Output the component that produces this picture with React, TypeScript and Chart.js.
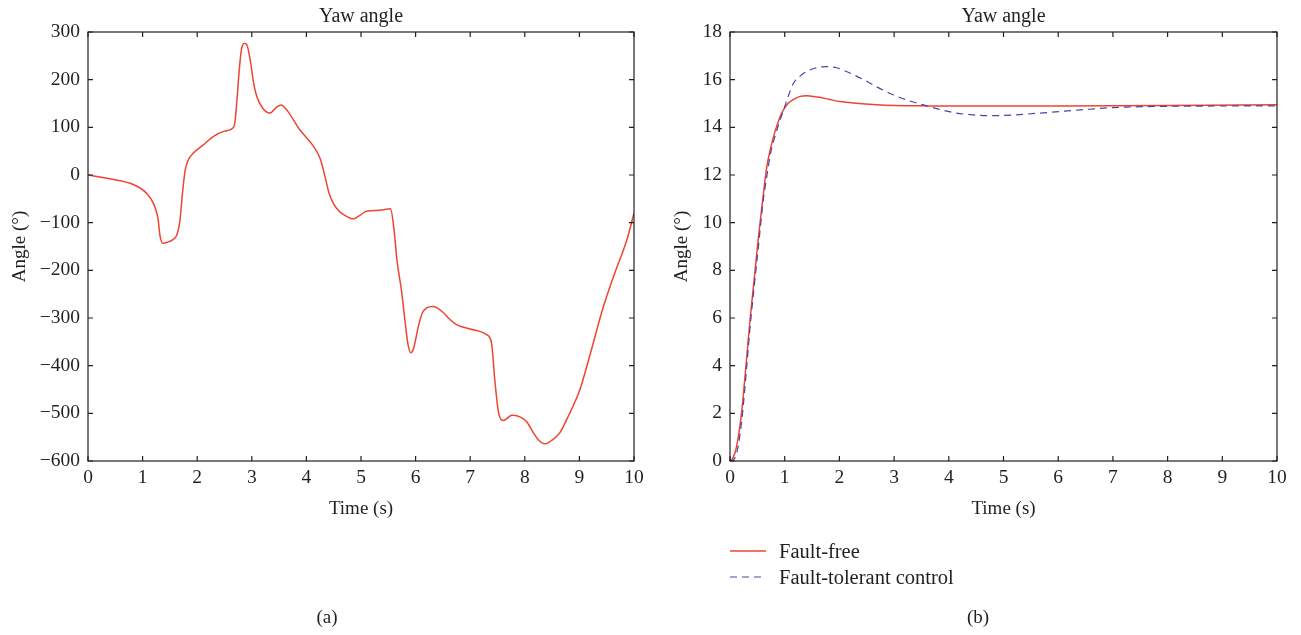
import React, { useEffect, useRef } from 'react';
import { Chart, registerables } from 'chart.js';

Chart.register(...registerables);

// ---------- data ----------
const timeTicks = [0, 1, 2, 3, 4, 5, 6, 7, 8, 9, 10];
const angleTicksA = [-600, -500, -400, -300, -200, -100, 0, 100, 200, 300];
const angleTicksB = [0, 2, 4, 6, 8, 10, 12, 14, 16, 18];

// panel (a): yaw angle
const timeA = [
  0, 0.4, 0.83, 1.07, 1.2, 1.28, 1.32, 1.37, 1.45, 1.55, 1.63, 1.685, 1.73, 1.78, 1.83, 1.93,
  2.1, 2.3, 2.5, 2.66, 2.69, 2.73, 2.77, 2.81, 2.86, 2.9, 2.97, 3.03, 3.09, 3.2, 3.33, 3.45,
  3.54, 3.65, 3.88, 4.13, 4.25, 4.34, 4.42, 4.49, 4.6, 4.68, 4.86, 4.95, 5.1, 5.35, 5.54,
  5.6, 5.66, 5.74, 5.81, 5.86, 5.91, 5.96, 6.05, 6.12, 6.2, 6.32, 6.51, 6.6, 6.75, 7.0, 7.3,
  7.39, 7.45, 7.52, 7.61, 7.67, 7.76, 7.9, 8.03, 8.16, 8.25, 8.37, 8.5, 8.64, 8.8, 9.01, 9.2,
  9.44, 9.65, 9.87, 10.0,
];
const angleA = [
  0, -8, -20, -38, -60, -90, -128, -143, -141, -136, -125, -94, -38, 10, 30, 46,
  62, 81, 92, 99, 110, 160, 220, 263, 276, 275, 242, 195, 165, 140, 130, 142,
  147, 135, 95, 60, 35, -3, -40, -59, -76, -83, -92, -87, -76, -74, -71,
  -110, -180, -241, -310, -355, -373, -365, -318, -290, -279, -276, -289, -300, -314, -323, -335,
  -352, -429, -499, -515, -511, -504, -507, -517, -541, -556, -564, -556, -541, -505, -450, -375,
  -276, -205, -136, -80,
];

// panel (b): fault-free vs fault-tolerant control
const seriesLabels = ['Fault-free', 'Fault-tolerant control'];
const timeFaultFree = [
  0, 0.06, 0.12, 0.21, 0.3, 0.37, 0.45, 0.52, 0.6, 0.67, 0.75, 0.82, 0.9, 0.97, 1.06, 1.16,
  1.28, 1.4, 1.6, 1.8, 2.01, 2.3, 2.68, 3.0, 3.6, 4.5, 6.0, 8.0, 10.0,
];
const angleFaultFree = [
  0, 0.15, 0.6, 2.0, 4.2, 6.0, 7.8, 9.4, 11.0, 12.3, 13.2, 13.8, 14.35, 14.7, 15.0, 15.17,
  15.3, 15.33, 15.27, 15.18, 15.08, 15.01, 14.95, 14.92, 14.9, 14.89, 14.9, 14.92, 14.95,
];
const timeFTC = [
  0, 0.06, 0.12, 0.21, 0.3, 0.37, 0.45, 0.52, 0.6, 0.67, 0.75, 0.82, 0.9, 1.0, 1.08, 1.16,
  1.28, 1.4, 1.55, 1.77, 1.95, 2.13, 2.4, 2.68, 2.95, 3.23, 3.6, 4.08, 4.4, 4.76, 5.18, 5.79,
  6.4, 7.01, 7.62, 8.5, 10.0,
];
const angleFTC = [
  0, 0.05, 0.3, 1.6, 3.8, 5.7, 7.5, 9.0, 10.8, 11.9, 13.0, 13.6, 14.2, 14.87, 15.4, 15.85,
  16.15, 16.34, 16.48, 16.55, 16.5, 16.34, 16.05, 15.7, 15.4, 15.15, 14.9, 14.62, 14.53, 14.49, 14.52, 14.62,
  14.73, 14.83, 14.87, 14.89, 14.9,
];

// ---------- styles ----------
const FONT = "'Liberation Serif', 'Times New Roman', serif";
const TEXT = '#231f20';
const RED = '#ee4430';
const BLUE = '#4a44a6';
const seriesColors = [RED, BLUE];

const fmt = (v: number) => (v < 0 ? '\u2212' + Math.abs(v) : String(v));

function framePlugin(title: string) {
  return {
    id: 'frame',
    afterDraw(chart: any) {
      const { ctx, chartArea: a, scales } = chart;
      ctx.save();
      ctx.strokeStyle = TEXT;
      ctx.lineWidth = 1.2;
      ctx.strokeRect(a.left, a.top, a.right - a.left, a.bottom - a.top);
      const tl = 5;
      ctx.beginPath();
      scales.x.ticks.forEach((t: any) => {
        const px = scales.x.getPixelForValue(t.value);
        ctx.moveTo(px, a.bottom);
        ctx.lineTo(px, a.bottom - tl);
        ctx.moveTo(px, a.top);
        ctx.lineTo(px, a.top + tl);
      });
      scales.y.ticks.forEach((t: any) => {
        const py = scales.y.getPixelForValue(t.value);
        ctx.moveTo(a.left, py);
        ctx.lineTo(a.left + tl, py);
        ctx.moveTo(a.right, py);
        ctx.lineTo(a.right - tl, py);
      });
      ctx.stroke();
      ctx.fillStyle = TEXT;
      ctx.font = `20px ${FONT}`;
      ctx.textAlign = 'center';
      ctx.textBaseline = 'middle';
      ctx.fillText(title, (a.left + a.right) / 2, 17);
      ctx.restore();
    },
  };
}

function makeOptions(opts: {
  yMin: number; yMax: number; yTicks: number[]; yWidth: number; padRight: number; yTitlePad: number;
}) {
  const tickFont = { family: FONT, size: 19.5 };
  const titleFont = { family: FONT, size: 19 };
  return {
    animation: false,
    responsive: false,
    events: [],
    layout: { padding: { left: 0, right: opts.padRight, top: 32, bottom: 114 } },
    plugins: { legend: { display: false }, tooltip: { enabled: false }, title: { display: false } },
    scales: {
      x: {
        type: 'linear',
        min: 0,
        max: 10,
        afterBuildTicks: (s: any) => { s.ticks = timeTicks.map((value) => ({ value })); },
        afterFit: (s: any) => { s.height = 60; },
        grid: { display: false, drawTicks: false },
        border: { display: false },
        ticks: { font: tickFont, color: TEXT, padding: 5, maxRotation: 0, autoSkip: false, callback: (v: any) => fmt(Number(v)) },
        title: { display: true, text: 'Time (s)', font: titleFont, color: TEXT, padding: { top: 0, bottom: 1 } },
      },
      y: {
        type: 'linear',
        min: opts.yMin,
        max: opts.yMax,
        afterBuildTicks: (s: any) => { s.ticks = opts.yTicks.map((value) => ({ value })); },
        afterFit: (s: any) => { s.width = opts.yWidth; },
        grid: { display: false, drawTicks: false },
        border: { display: false },
        ticks: { font: tickFont, color: TEXT, padding: 8, autoSkip: false, callback: (v: any) => fmt(Number(v)) },
        title: { display: true, text: 'Angle (°)', font: titleFont, color: TEXT, padding: { top: opts.yTitlePad, bottom: 0 } },
      },
    },
  };
}

const pts = (t: number[], v: number[]) => t.map((x, i) => ({ x, y: v[i] }));

export default function App() {
  const refA = useRef<HTMLCanvasElement>(null);
  const refB = useRef<HTMLCanvasElement>(null);

  useEffect(() => {
    const chartA = new Chart(refA.current as HTMLCanvasElement, {
      type: 'line',
      data: {
        datasets: [
          {
            label: 'Yaw angle',
            data: pts(timeA, angleA),
            borderColor: RED,
            borderWidth: 1.5,
            pointRadius: 0,
            fill: false,
            cubicInterpolationMode: 'monotone',
          },
        ],
      },
      options: makeOptions({ yMin: -600, yMax: 300, yTicks: angleTicksA, yWidth: 88, padRight: 16, yTitlePad: 9 }) as any,
      plugins: [framePlugin('Yaw angle')],
    });
    const chartB = new Chart(refB.current as HTMLCanvasElement, {
      type: 'line',
      data: {
        datasets: [
          {
            label: seriesLabels[1],
            data: pts(timeFTC, angleFTC),
            borderColor: seriesColors[1],
            borderWidth: 1.2,
            borderDash: [7, 5],
            pointRadius: 0,
            fill: false,
            cubicInterpolationMode: 'monotone',
          },
          {
            label: seriesLabels[0],
            data: pts(timeFaultFree, angleFaultFree),
            borderColor: seriesColors[0],
            borderWidth: 1.5,
            pointRadius: 0,
            fill: false,
            cubicInterpolationMode: 'monotone',
          },
        ],
      },
      options: makeOptions({ yMin: 0, yMax: 18, yTicks: angleTicksB, yWidth: 80, padRight: 24, yTitlePad: 21 }) as any,
      plugins: [framePlugin('Yaw angle')],
    });
    return () => {
      chartA.destroy();
      chartB.destroy();
    };
  }, []);

  const textStyle: React.CSSProperties = { fontFamily: FONT, fontSize: 20.5, color: TEXT, lineHeight: '26px', whiteSpace: 'nowrap' };

  return (
    <div style={{ position: 'absolute', left: 0, top: 0, width: 1301, height: 635, background: '#fff', overflow: 'hidden' }}>
      <canvas ref={refA} width={650} height={635} style={{ position: 'absolute', left: 0, top: 0 }} />
      <canvas ref={refB} width={651} height={635} style={{ position: 'absolute', left: 650, top: 0 }} />
      <div style={{ position: 'absolute', left: 730, top: 538 }}>
        {seriesLabels.map((lab, i) => (
          <div key={lab} style={{ display: 'flex', alignItems: 'center', height: 26 }}>
            <svg width={36} height={10} style={{ marginRight: 13 }}>
              <line
                x1={0}
                y1={5}
                x2={36}
                y2={5}
                stroke={seriesColors[i]}
                strokeWidth={i === 0 ? 1.5 : 1.2}
                strokeDasharray={i === 0 ? undefined : '7 5'}
              />
            </svg>
            <span style={textStyle}>{lab}</span>
          </div>
        ))}
      </div>
      <div style={{ ...textStyle, position: 'absolute', left: 327, top: 604, transform: 'translateX(-50%)', fontSize: 19 }}>(a)</div>
      <div style={{ ...textStyle, position: 'absolute', left: 978, top: 604, transform: 'translateX(-50%)', fontSize: 19 }}>(b)</div>
    </div>
  );
}
